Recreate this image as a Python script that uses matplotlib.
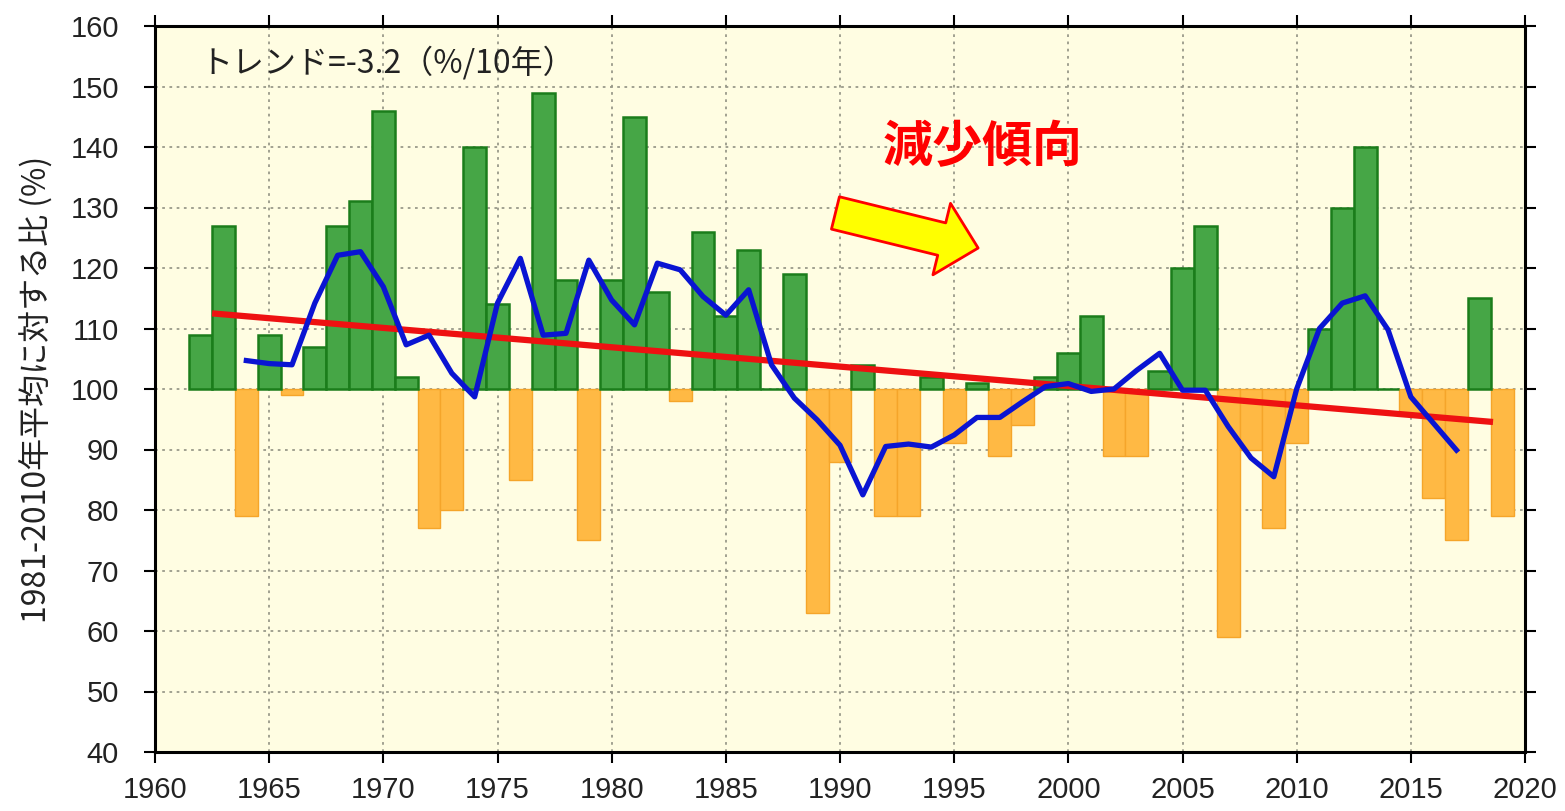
import numpy as np
import matplotlib
matplotlib.use("Agg")
import matplotlib.pyplot as plt
from matplotlib.patches import FancyArrowPatch

plt.rcParams["font.family"] = ["Noto Sans CJK JP", "DejaVu Sans"]

# yearly ratio to the 1981-2010 mean (%)
years = list(range(1962, 2020))
ratio = [
    109, 127, 79, 109, 99, 107, 127, 131, 146, 102,   # 1962-1971
    77, 80, 140, 114, 85, 149, 118, 75, 118, 145,     # 1972-1981
    116, 98, 126, 112, 123, 100, 119, 63, 88, 104,    # 1982-1991
    79, 79, 102, 91, 101, 89, 94, 102, 106, 112,      # 1992-2001
    89, 89, 103, 120, 127, 59, 90, 77, 91, 110,       # 2002-2011
    130, 140, 100, 96, 82, 75, 115, 79,               # 2012-2019
]

# 5-year running mean
mean_years = list(range(1964, 2018))
running_mean = [
    104.7, 104.2, 104.0, 114.2, 122.1, 122.7, 116.9, 107.3, 108.9, 102.6,  # 1964-1973
    98.7, 114.2, 121.6, 108.9, 109.2, 121.3, 114.7, 110.6, 120.8, 119.7,   # 1974-1983
    115.3, 112.2, 116.4, 104.0, 98.5, 94.9, 90.7, 82.5, 90.5, 90.9,        # 1984-1993
    90.4, 92.4, 95.3, 95.3, 97.9, 100.4, 100.9, 99.6, 100.0, 103.1,        # 1994-2003
    105.9, 99.8, 99.8, 93.8, 88.6, 85.5, 100.0, 110.0, 114.2, 115.4,       # 2004-2013
    109.8, 98.7, 94.3, 89.9,                                               # 2014-2017
]

# linear trend (-3.2 %/10 years)
trend_slope = -0.32
trend_at_start = 112.5
trend_years = [1962.5, 2018.6]

trend_label = "トレンド=-3.2（%/10年）"
note_label = "減少傾向"
ylabel = "1981-2010年平均に対する比 (%)"

fig = plt.figure(figsize=(15.65, 8.11), dpi=100)
ax = fig.add_axes([155 / 1565, 1 - 752 / 811, 1370 / 1565, 726 / 811])
ax.set_facecolor("#fffde2")

ax.grid(True, linestyle=(0, (1.5, 2.5)), color="#9a9a8a", linewidth=1.3)
ax.set_axisbelow(True)

vals = np.array(ratio, dtype=float)
pos = vals >= 100
yrs = np.array(years)
ax.bar(yrs[~pos], vals[~pos] - 100, bottom=100, width=1.0,
       color="#ffb944", edgecolor="#f5a52a", linewidth=1.0, zorder=2)
ax.bar(yrs[pos], vals[pos] - 100, bottom=100, width=1.0,
       color="#46a646", edgecolor="#1b7d1b", linewidth=1.8, zorder=3)

tx = np.array(trend_years)
ty = trend_at_start + trend_slope * (tx - trend_years[0])
ax.plot(tx, ty, color="#ee1111", linewidth=4.5, zorder=4, solid_capstyle="butt")
ax.plot(mean_years, running_mean, color="#0a14d2", linewidth=3.8, zorder=5)

ax.set_xlim(1960, 2020)
ax.set_ylim(40, 160)
ax.set_xticks(range(1960, 2021, 5))
ax.set_yticks(range(40, 161, 10))
for lbl in ax.get_xticklabels() + ax.get_yticklabels():
    lbl.set_fontfamily(["Liberation Sans", "DejaVu Sans"])
    lbl.set_fontsize(21)
    lbl.set_color("#222222")
ax.tick_params(axis="both", direction="out", length=8, width=1.5,
               top=True, right=True, labeltop=False, labelright=False)
ax.tick_params(axis="y", pad=18)
ax.tick_params(axis="x", pad=9)
for s in ax.spines.values():
    s.set_linewidth(2.2)

ax.set_ylabel(ylabel, fontsize=23, color="#222222", labelpad=12)

ax.text(0.033, 0.949, trend_label, transform=ax.transAxes, fontsize=23,
        color="#222222", ha="left", va="center")
ax.text(0.604, 0.833, note_label, transform=ax.transAxes, fontsize=36,
        color="#ff0000", fontweight="bold", ha="center", va="center")

arrow = FancyArrowPatch((1989.8, 129.1), (1996.05, 123.3),
                        arrowstyle="simple,head_length=27,head_width=53,tail_width=24",
                        mutation_scale=1, shrinkA=0, shrinkB=0,
                        facecolor="#ffff00", edgecolor="#ff0000", linewidth=2, zorder=6)
ax.add_patch(arrow)

fig.savefig("out.png", dpi=100)
